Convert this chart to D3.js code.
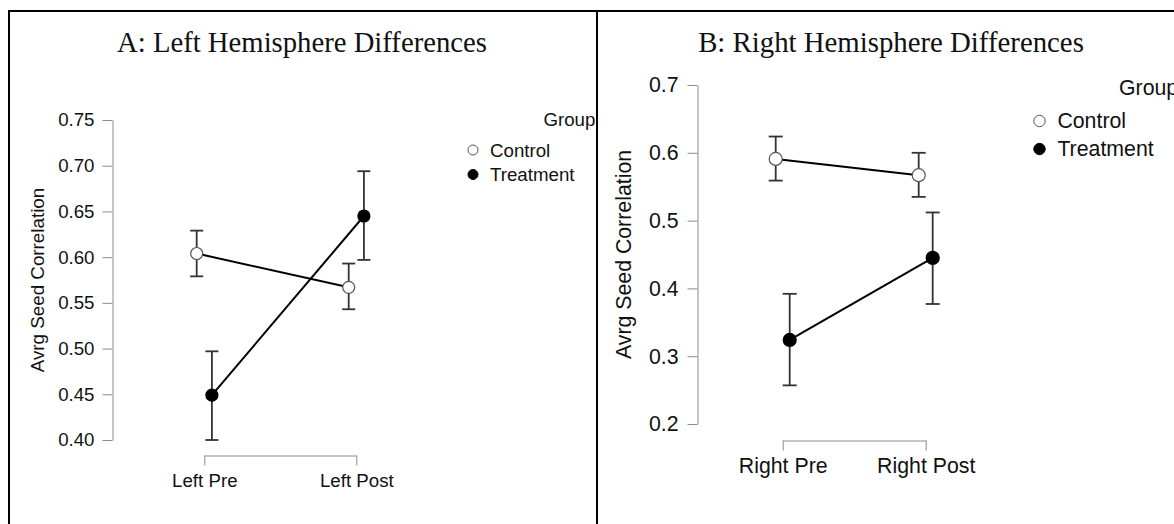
<!DOCTYPE html>
<html>
<head>
<meta charset="utf-8">
<script src="https://cdn.jsdelivr.net/npm/d3@7"></script>
<style>
  html, body { margin: 0; padding: 0; background: #fff; }
  svg { display: block; }
</style>
</head>
<body>
<svg id="chart" width="1174" height="524"></svg>
<script>
// ---------- DATA ----------
const groups = ["Control", "Treatment"];

const leftTitle = "A: Left Hemisphere Differences";
const leftCategories = ["Left Pre", "Left Post"];
const leftControlMean  = [0.604, 0.567];
const leftControlLow   = [0.579, 0.543];
const leftControlHigh  = [0.629, 0.593];
const leftTreatMean    = [0.449, 0.645];
const leftTreatLow     = [0.400, 0.597];
const leftTreatHigh    = [0.497, 0.694];
const leftTicks = [0.40, 0.45, 0.50, 0.55, 0.60, 0.65, 0.70, 0.75];

const rightTitle = "B: Right Hemisphere Differences";
const rightCategories = ["Right Pre", "Right Post"];
const rightControlMean = [0.591, 0.567];
const rightControlLow  = [0.559, 0.535];
const rightControlHigh = [0.624, 0.600];
const rightTreatMean   = [0.324, 0.445];
const rightTreatLow    = [0.257, 0.377];
const rightTreatHigh   = [0.392, 0.512];
const rightTicks = [0.2, 0.3, 0.4, 0.5, 0.6, 0.7];

const yLabel = "Avrg Seed Correlation";
const legendTitle = "Group";

// ---------- LAYOUT ----------
const svg = d3.select("#chart");
const sans = "'Liberation Sans', Arial, sans-serif";
const serif = "'Liberation Serif', 'Times New Roman', serif";
const axisColor = "#8c8c8c";

// frame
svg.append("line").attr("x1", 9).attr("x2", 1174).attr("y1", 11).attr("y2", 11)
  .attr("stroke", "#000").attr("stroke-width", 2);
svg.append("line").attr("x1", 9).attr("x2", 9).attr("y1", 10).attr("y2", 524)
  .attr("stroke", "#000").attr("stroke-width", 2);

const defs = svg.append("defs");
defs.append("clipPath").attr("id", "clipA").append("rect")
  .attr("x", 10).attr("y", 12).attr("width", 586).attr("height", 512);

function panel(cfg) {
  const g = svg.append("g").attr("clip-path", cfg.clip ? `url(#${cfg.clip})` : null);

  const y = d3.scaleLinear().domain(cfg.yDomain).range(cfg.yRange);
  const x = d3.scalePoint().domain(cfg.categories).range(cfg.xRange);

  // title
  g.append("text").attr("x", cfg.titleX).attr("y", cfg.titleY)
    .attr("text-anchor", "middle").attr("font-family", serif)
    .attr("font-size", cfg.titleSize).attr("fill", "#111").text(cfg.title);

  // y axis
  const ya = g.append("g").attr("transform", `translate(${cfg.yAxisX},0)`)
    .call(d3.axisLeft(y).tickValues(cfg.ticks).tickFormat(d3.format(cfg.fmt))
      .tickSize(10).tickSizeOuter(0).tickPadding(cfg.tickPad));
  ya.select(".domain").attr("stroke", axisColor);
  ya.selectAll(".tick line").attr("stroke", axisColor);
  ya.selectAll(".tick text").attr("font-family", sans).attr("font-size", cfg.fontSize).attr("fill", "#111");

  // x axis bracket
  const xa = g.append("g").attr("transform", `translate(0,${cfg.xAxisY})`)
    .call(d3.axisBottom(x).tickSize(10).tickSizeOuter(0).tickPadding(cfg.xPad));
  xa.select(".domain").attr("stroke", axisColor);
  xa.selectAll(".tick line").attr("stroke", axisColor);
  xa.selectAll(".tick text").attr("font-family", sans).attr("font-size", cfg.fontSize).attr("fill", "#111");

  // y label
  g.append("text")
    .attr("transform", `translate(${cfg.yLabelX},${(cfg.yRange[0] + cfg.yRange[1]) / 2}) rotate(-90)`)
    .attr("text-anchor", "middle").attr("dominant-baseline", "central")
    .attr("font-family", sans).attr("font-size", cfg.yLabelSize).attr("fill", "#111")
    .text(yLabel);

  // series
  cfg.series.forEach((s, si) => {
    const px = i => x(cfg.categories[i]) + cfg.dodge[si];
    const idx = d3.range(cfg.categories.length);
    // error bars
    idx.forEach(i => {
      g.append("line").attr("x1", px(i)).attr("x2", px(i))
        .attr("y1", y(s.low[i])).attr("y2", y(s.high[i]))
        .attr("stroke", "#333").attr("stroke-width", 1.8);
      [s.low[i], s.high[i]].forEach(v => {
        g.append("line").attr("x1", px(i) - cfg.cap).attr("x2", px(i) + cfg.cap)
          .attr("y1", y(v)).attr("y2", y(v))
          .attr("stroke", "#333").attr("stroke-width", 1.8);
      });
    });
    // connecting line
    g.append("path")
      .attr("d", d3.line().x(i => px(i)).y(i => y(s.mean[i]))(idx))
      .attr("fill", "none").attr("stroke", "#000").attr("stroke-width", 2);
    // points
    idx.forEach(i => {
      g.append("circle").attr("cx", px(i)).attr("cy", y(s.mean[i])).attr("r", cfg.pointR)
        .attr("fill", si === 0 ? "#fff" : "#000")
        .attr("stroke", si === 0 ? "#555" : "#000").attr("stroke-width", 1.2);
    });
  });

  // legend
  g.append("text").attr("x", cfg.legendTitleX).attr("y", cfg.legendTitleY)
    .attr("font-family", sans).attr("font-size", cfg.legendSize).attr("fill", "#111")
    .text(legendTitle);
  groups.forEach((name, gi) => {
    const cy = cfg.legendY0 + gi * cfg.legendStep;
    g.append("circle").attr("cx", cfg.legendX).attr("cy", cy).attr("r", cfg.legendR)
      .attr("fill", gi === 0 ? "#fff" : "#000")
      .attr("stroke", gi === 0 ? "#555" : "#000").attr("stroke-width", 1);
    g.append("text").attr("x", cfg.legendTextX).attr("y", cy)
      .attr("dominant-baseline", "central")
      .attr("font-family", sans).attr("font-size", cfg.legendSize).attr("fill", "#111")
      .text(name);
  });
}

panel({
  clip: "clipA",
  title: leftTitle, titleX: 302, titleY: 52, titleSize: 28.7,
  categories: leftCategories,
  yDomain: [0.40, 0.75], yRange: [440, 120], ticks: leftTicks, fmt: ".2f",
  xRange: [204.3, 356.3], yAxisX: 112.5, xAxisY: 455.5, tickPad: 8, xPad: 8,
  fontSize: 18.7, yLabelX: 37, yLabelSize: 18.8,
  dodge: [-7.6, 7.6], cap: 6.5, pointR: 6,
  series: [
    { mean: leftControlMean, low: leftControlLow, high: leftControlHigh },
    { mean: leftTreatMean, low: leftTreatLow, high: leftTreatHigh }
  ],
  legendTitleX: 543.4, legendTitleY: 125.5, legendSize: 18.7,
  legendX: 473, legendTextX: 490, legendY0: 150, legendStep: 24.5, legendR: 5
});

panel({
  clip: null,
  title: rightTitle, titleX: 891, titleY: 52, titleSize: 28.8,
  categories: rightCategories,
  yDomain: [0.2, 0.7], yRange: [424, 85], ticks: rightTicks, fmt: ".1f",
  xRange: [782.7, 925.7], yAxisX: 697.5, xAxisY: 440.5, tickPad: 9, xPad: 7,
  fontSize: 21.3, yLabelX: 623.5, yLabelSize: 21.3,
  dodge: [-7, 7], cap: 7, pointR: 6.5,
  series: [
    { mean: rightControlMean, low: rightControlLow, high: rightControlHigh },
    { mean: rightTreatMean, low: rightTreatLow, high: rightTreatHigh }
  ],
  legendTitleX: 1119, legendTitleY: 94.5, legendSize: 21.3,
  legendX: 1039.5, legendTextX: 1057.4, legendY0: 121, legendStep: 28, legendR: 5.7
});

// divider between panels (drawn last)
svg.append("line").attr("x1", 597).attr("x2", 597).attr("y1", 10).attr("y2", 524)
  .attr("stroke", "#000").attr("stroke-width", 2);
</script>
</body>
</html>
